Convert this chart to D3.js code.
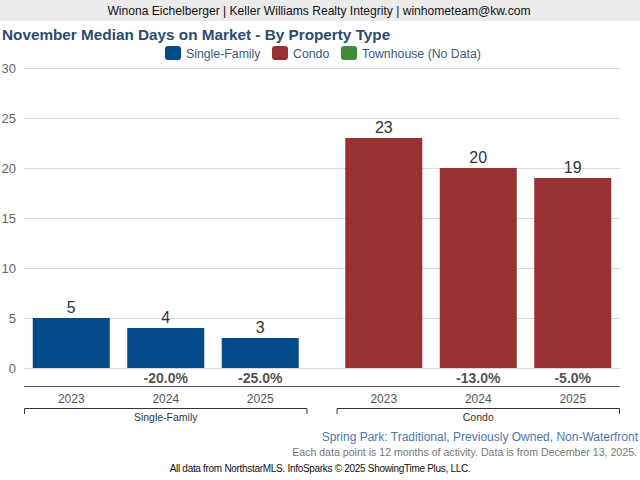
<!DOCTYPE html>
<html>
<head>
<meta charset="utf-8">
<script src="https://cdn.jsdelivr.net/npm/d3@7"></script>
<style>
  html, body { margin: 0; padding: 0; background: #fff; }
  svg { display: block; font-family: "Liberation Sans", Arial, sans-serif; }
</style>
</head>
<body>
<svg id="chart" width="640" height="480"></svg>
<script>
// ---- data ----
const groups = ["Single-Family", "Condo"];
const years = ["2023", "2024", "2025"];
const singleFamily = [5, 4, 3];
const condo = [23, 20, 19];
const singleFamilyChange = [null, "-20.0%", "-25.0%"];
const condoChange = [null, "-13.0%", "-5.0%"];
const legendItems = ["Single-Family", "Condo", "Townhouse (No Data)"];
const yTicks = [0, 5, 10, 15, 20, 25, 30];

const colors = { "Single-Family": "#034a8b", "Condo": "#993033", "Townhouse (No Data)": "#3f8c39" };
const seriesValues = { "Single-Family": singleFamily, "Condo": condo };
const seriesChange = { "Single-Family": singleFamilyChange, "Condo": condoChange };

const svg = d3.select("#chart");

// header
svg.append("rect").attr("x", 0).attr("y", 0).attr("width", 640).attr("height", 21).attr("fill", "#ebebeb");
svg.append("text").attr("x", 319).attr("y", 15).attr("text-anchor", "middle")
  .attr("font-size", 12.1).attr("fill", "#111")
  .text("Winona Eichelberger | Keller Williams Realty Integrity | winhometeam@kw.com");

// title
svg.append("text").attr("x", 2).attr("y", 40).attr("font-size", 15.3).attr("font-weight", "bold")
  .attr("fill", "#2b4b6f").text("November Median Days on Market - By Property Type");

// legend
const legendX = [165, 272, 341];
legendItems.forEach((name, i) => {
  const g = svg.append("g").attr("transform", `translate(${legendX[i]},46)`);
  g.append("rect").attr("width", 16).attr("height", 14).attr("rx", 3).attr("fill", colors[name]);
  g.append("text").attr("x", 21).attr("y", 12).attr("font-size", 12.3).attr("fill", "#3a5a7e").text(name);
});

// scales
const plotLeft = 24, plotRight = 620;
const y = d3.scaleLinear().domain([0, 30]).range([368, 68]);
const xGroup = d3.scaleBand().domain(groups).range([plotLeft, plotRight]).paddingInner(0.093).paddingOuter(0);
const xYear = d3.scaleBand().domain(years).range([0, xGroup.bandwidth()]).paddingInner(0.185).paddingOuter(0.0925);

// gridlines + y labels
const yAxis = d3.axisLeft(y).tickValues(yTicks).tickSize(-(plotRight - plotLeft)).tickPadding(8);
const yg = svg.append("g").attr("transform", `translate(${plotLeft},0)`).call(yAxis);
yg.select(".domain").remove();
yg.selectAll(".tick line").attr("stroke", "#d9d9d9");
yg.selectAll(".tick text").attr("font-size", 13).attr("fill", "#666").attr("font-family", "Liberation Sans, Arial, sans-serif");

// bars
groups.forEach(grp => {
  const gx = xGroup(grp);
  const vals = seriesValues[grp];
  const chg = seriesChange[grp];
  const g = svg.append("g").attr("transform", `translate(${gx},0)`);
  g.selectAll("rect.bar").data(years).join("rect").attr("class", "bar")
    .attr("x", d => xYear(d)).attr("width", xYear.bandwidth())
    .attr("y", (d, i) => y(vals[i])).attr("height", (d, i) => y(0) - y(vals[i]))
    .attr("fill", colors[grp]);
  g.selectAll("text.val").data(years).join("text").attr("class", "val")
    .attr("x", d => xYear(d) + xYear.bandwidth() / 2)
    .attr("y", (d, i) => y(vals[i]) - 5)
    .attr("text-anchor", "middle").attr("font-size", 16).attr("fill", "#333")
    .text((d, i) => vals[i]);
  g.selectAll("text.chg").data(years.filter((d, i) => chg[i] !== null)).join("text").attr("class", "chg")
    .attr("x", d => xYear(d) + xYear.bandwidth() / 2)
    .attr("y", 383)
    .attr("text-anchor", "middle").attr("font-size", 14).attr("font-weight", "bold").attr("fill", "#555")
    .text(d => chg[years.indexOf(d)]);
  // year labels
  g.selectAll("text.yr").data(years).join("text").attr("class", "yr")
    .attr("x", d => xYear(d) + xYear.bandwidth() / 2)
    .attr("y", 403)
    .attr("text-anchor", "middle").attr("font-size", 12).attr("fill", "#555")
    .text(d => d);
  // bracket
  const w = xGroup.bandwidth();
  g.append("path").attr("d", `M0.5,414V408.5H${w - 0.5}V414`).attr("fill", "none").attr("stroke", "#333").attr("stroke-width", 1);
  g.append("text").attr("x", w / 2).attr("y", 421).attr("text-anchor", "middle")
    .attr("font-size", 10.5).attr("fill", "#333").text(grp);
});

// x axis line
svg.append("line").attr("x1", plotLeft).attr("x2", plotRight).attr("y1", 386.5).attr("y2", 386.5)
  .attr("stroke", "#555").attr("stroke-width", 1);

// footer
svg.append("text").attr("x", 638).attr("y", 441).attr("text-anchor", "end").attr("font-size", 12)
  .attr("fill", "#4a77aa").text("Spring Park: Traditional, Previously Owned, Non-Waterfront");
svg.append("text").attr("x", 637).attr("y", 456).attr("text-anchor", "end").attr("font-size", 10.6)
  .attr("fill", "#777").text("Each data point is 12 months of activity. Data is from December 13, 2025.");
svg.append("text").attr("x", 320).attr("y", 472).attr("text-anchor", "middle").attr("font-size", 10)
  .attr("letter-spacing", -0.3).attr("fill", "#111").text("All data from NorthstarMLS. InfoSparks © 2025 ShowingTime Plus, LLC.");
</script>
</body>
</html>
